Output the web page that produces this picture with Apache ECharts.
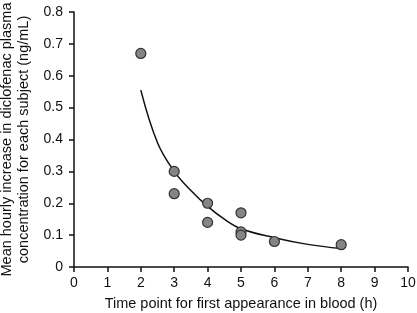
<!DOCTYPE html>
<html>
<head>
<meta charset="utf-8">
<script src="https://cdn.jsdelivr.net/npm/echarts@6/dist/echarts.min.js"></script>
<style>
  html, body { margin: 0; padding: 0; background: #fff; }
  #chart { width: 417px; height: 313px; }
</style>
</head>
<body>
<div id="chart"></div>
<script>
// observed points: time of first appearance (h) and mean hourly increase (ng/mL)
const obsTime = [2, 3, 3, 4, 4, 5, 5, 5, 6, 8];
const obsValue = [0.67, 0.30, 0.23, 0.20, 0.14, 0.17, 0.11, 0.10, 0.08, 0.07];

// fitted curve
const fitTime = [2, 2.5, 3, 3.5, 4, 4.5, 5, 6, 7, 8];
const fitValue = [0.555, 0.39, 0.30, 0.24, 0.19, 0.15, 0.12, 0.092, 0.071, 0.058];

const xTicks = [0, 1, 2, 3, 4, 5, 6, 7, 8, 9, 10];
const yTicks = [0, 0.1, 0.2, 0.3, 0.4, 0.5, 0.6, 0.7, 0.8];

const font = 'Liberation Sans, Arial, sans-serif';
const ink = '#111';

const myChart = echarts.init(document.getElementById('chart'), null, { renderer: 'canvas' });

const axisCommon = {
  axisLine: { show: true, onZero: false, lineStyle: { color: ink, width: 1.5 } },
  axisTick: { show: true, inside: false, length: 5, lineStyle: { color: ink, width: 1.5 } },
  splitLine: { show: false },
  nameTextStyle: { color: ink, fontFamily: font, fontSize: 14.5 }
};

const option = {
  animation: false,
  grid: { left: 74, right: 9, top: 12, bottom: 46, containLabel: false, outerBoundsMode: 'none' },
  xAxis: {
    ...axisCommon,
    type: 'value',
    min: xTicks[0],
    max: xTicks[xTicks.length - 1],
    interval: 1,
    name: 'Time point for first appearance in blood (h)',
    nameLocation: 'middle',
    nameGap: 29,
    axisLabel: { color: ink, fontFamily: font, fontSize: 14, margin: 9 }
  },
  yAxis: {
    ...axisCommon,
    type: 'value',
    min: yTicks[0],
    max: yTicks[yTicks.length - 1],
    interval: 0.1,
    name: 'Mean hourly increase in diclofenac plasma\nconcentration for each subject (ng/mL)',
    nameLocation: 'middle',
    nameGap: 38,
    nameTextStyle: { color: ink, fontFamily: font, fontSize: 14.5, lineHeight: 17 },
    axisLabel: {
      color: ink, fontFamily: font, fontSize: 14, margin: 11,
      formatter: v => (v === 0 ? '0' : v.toFixed(1))
    }
  },
  series: [
    {
      type: 'line',
      data: fitTime.map((t, i) => [t, fitValue[i]]),
      smooth: 0.4,
      showSymbol: false,
      lineStyle: { color: ink, width: 1.5 },
      z: 2
    },
    {
      type: 'scatter',
      data: obsTime.map((t, i) => [t, obsValue[i]]),
      symbolSize: 10,
      itemStyle: { color: '#858585', borderColor: '#333', borderWidth: 1.2, opacity: 1 },
      z: 3
    }
  ]
};

myChart.setOption(option);
</script>
</body>
</html>
